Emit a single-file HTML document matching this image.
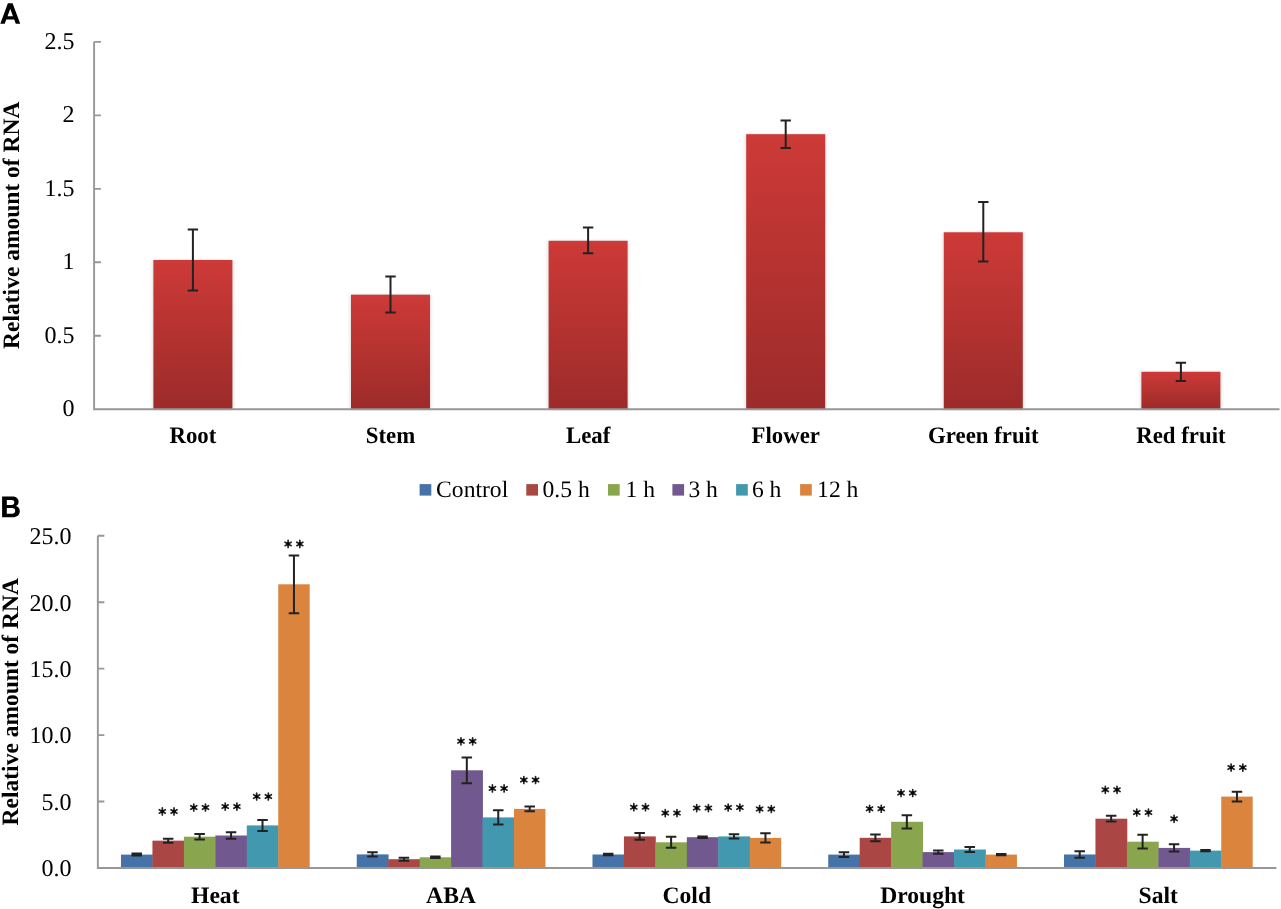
<!DOCTYPE html>
<html><head><meta charset="utf-8"><title>Relative amount of RNA</title>
<style>html,body{margin:0;padding:0;background:#fff;overflow:hidden}svg{display:block;will-change:transform;text-rendering:geometricPrecision}</style>
</head><body>
<svg width="1281" height="909" viewBox="0 0 1281 909">
<defs>
<linearGradient id="gA" x1="0" y1="0" x2="0" y2="1">
<stop offset="0" stop-color="#cd3a37"/><stop offset="1" stop-color="#9c2b2a"/>
</linearGradient>
<filter id="sh" x="-20%" y="-5%" width="140%" height="110%"><feGaussianBlur stdDeviation="2.2 0.8"/></filter>
<symbol id="ast" overflow="visible"><path d="M0 0L0.000 3.500M0 0L3.031 1.750M0 0L3.031 -1.750M0 0L0.000 -3.500M0 0L-3.031 -1.750M0 0L-3.031 1.750" stroke="#242424" stroke-width="1.7" stroke-linecap="round"/><circle r="1.7" fill="#050505"/></symbol>
</defs>
<rect width="1281" height="909" fill="#fff"/>
<path fill-rule="evenodd" d="M0.3 23.8L7.9 3.3H12.6L20.2 23.8H15.8L14.2 19.5H6.3L4.7 23.8ZM7.52 16.2H12.98L10.25 8.84Z"/>
<rect x="153.40" y="260.00" width="79.00" height="149.30" fill="#000" opacity="0.2" filter="url(#sh)"/>
<rect x="351.00" y="294.70" width="79.00" height="114.60" fill="#000" opacity="0.2" filter="url(#sh)"/>
<rect x="548.60" y="240.80" width="79.00" height="168.50" fill="#000" opacity="0.2" filter="url(#sh)"/>
<rect x="746.20" y="134.20" width="79.00" height="275.10" fill="#000" opacity="0.2" filter="url(#sh)"/>
<rect x="943.80" y="232.30" width="79.00" height="177.00" fill="#000" opacity="0.2" filter="url(#sh)"/>
<rect x="1141.40" y="371.80" width="79.00" height="37.50" fill="#000" opacity="0.2" filter="url(#sh)"/>
<rect x="153.40" y="260.00" width="79.00" height="149.30" fill="url(#gA)"/>
<rect x="351.00" y="294.70" width="79.00" height="114.60" fill="url(#gA)"/>
<rect x="548.60" y="240.80" width="79.00" height="168.50" fill="url(#gA)"/>
<rect x="746.20" y="134.20" width="79.00" height="275.10" fill="url(#gA)"/>
<rect x="943.80" y="232.30" width="79.00" height="177.00" fill="url(#gA)"/>
<rect x="1141.40" y="371.80" width="79.00" height="37.50" fill="url(#gA)"/>
<path d="M94.1 41.85V409.3H1279.5" fill="none" stroke="#979797" stroke-width="1.9"/>
<path d="M94.1 335.81h6.8M94.1 262.32h6.8M94.1 188.83h6.8M94.1 115.34h6.8M94.1 41.85h6.8" stroke="#979797" stroke-width="1.9"/>
<text x="74.6" y="416.10" text-anchor="end" font-family='"Liberation Serif", serif' font-size="24">0</text>
<text x="74.6" y="342.61" text-anchor="end" font-family='"Liberation Serif", serif' font-size="24">0.5</text>
<text x="74.6" y="269.12" text-anchor="end" font-family='"Liberation Serif", serif' font-size="24">1</text>
<text x="74.6" y="195.63" text-anchor="end" font-family='"Liberation Serif", serif' font-size="24">1.5</text>
<text x="74.6" y="122.14" text-anchor="end" font-family='"Liberation Serif", serif' font-size="24">2</text>
<text x="74.6" y="48.65" text-anchor="end" font-family='"Liberation Serif", serif' font-size="24">2.5</text>
<path d="M192.90 229.50V290.40M187.70 229.50h10.4M187.70 290.40h10.4" stroke="#222" stroke-width="2"/>
<path d="M390.50 276.40V312.40M385.30 276.40h10.4M385.30 312.40h10.4" stroke="#222" stroke-width="2"/>
<path d="M588.10 227.60V253.30M582.90 227.60h10.4M582.90 253.30h10.4" stroke="#222" stroke-width="2"/>
<path d="M785.70 120.50V147.90M780.50 120.50h10.4M780.50 147.90h10.4" stroke="#222" stroke-width="2"/>
<path d="M983.30 202.10V261.50M978.10 202.10h10.4M978.10 261.50h10.4" stroke="#222" stroke-width="2"/>
<path d="M1180.90 362.70V380.90M1175.70 362.70h10.4M1175.70 380.90h10.4" stroke="#222" stroke-width="2"/>
<text transform="translate(192.90 443.1) scale(0.967 1)" text-anchor="middle" font-family='"Liberation Serif", serif' font-weight="bold" font-size="23.6">Root</text>
<text transform="translate(390.50 443.1) scale(0.967 1)" text-anchor="middle" font-family='"Liberation Serif", serif' font-weight="bold" font-size="23.6">Stem</text>
<text transform="translate(588.10 443.1) scale(0.967 1)" text-anchor="middle" font-family='"Liberation Serif", serif' font-weight="bold" font-size="23.6">Leaf</text>
<text transform="translate(785.70 443.1) scale(0.967 1)" text-anchor="middle" font-family='"Liberation Serif", serif' font-weight="bold" font-size="23.6">Flower</text>
<text transform="translate(983.30 443.1) scale(0.967 1)" text-anchor="middle" font-family='"Liberation Serif", serif' font-weight="bold" font-size="23.6">Green fruit</text>
<text transform="translate(1180.90 443.1) scale(0.967 1)" text-anchor="middle" font-family='"Liberation Serif", serif' font-weight="bold" font-size="23.6">Red fruit</text>
<text transform="translate(18.5 225.2) rotate(-90)" text-anchor="middle" font-family='"Liberation Serif", serif' font-weight="bold" font-size="23.5">Relative amount of RNA</text>
<path transform="translate(0 496.6)" fill-rule="evenodd" d="M2.1 0H12.2C16.2 0 18.6 2 18.6 5.2C18.6 7.3 17.5 8.7 15.9 9.5C18.3 10.2 19.8 12 19.8 14.6C19.8 18.3 17 20.6 12.6 20.6H2.1ZM6.8 3.4V8.3H11.6C13.4 8.3 14.3 7.5 14.3 5.85C14.3 4.2 13.4 3.4 11.6 3.4ZM6.8 11.3V17.2H12C14 17.2 15.2 16.1 15.2 14.25C15.2 12.4 14 11.3 12 11.3Z"/>
<rect x="120.99" y="854.60" width="31.85" height="13.35" fill="#4572A7"/>
<rect x="152.44" y="840.65" width="31.85" height="27.30" fill="#AA4643"/>
<rect x="183.89" y="836.70" width="31.85" height="31.25" fill="#89A54E"/>
<rect x="215.34" y="835.50" width="31.85" height="32.45" fill="#71588F"/>
<rect x="246.79" y="825.40" width="31.85" height="42.55" fill="#4198AF"/>
<rect x="278.24" y="584.30" width="31.45" height="283.65" fill="#DB843D"/>
<rect x="356.74" y="854.40" width="31.85" height="13.55" fill="#4572A7"/>
<rect x="388.19" y="859.20" width="31.85" height="8.75" fill="#AA4643"/>
<rect x="419.64" y="857.30" width="31.85" height="10.65" fill="#89A54E"/>
<rect x="451.09" y="770.30" width="31.85" height="97.65" fill="#71588F"/>
<rect x="482.54" y="817.40" width="31.85" height="50.55" fill="#4198AF"/>
<rect x="513.99" y="808.90" width="31.45" height="59.05" fill="#DB843D"/>
<rect x="592.49" y="854.50" width="31.85" height="13.45" fill="#4572A7"/>
<rect x="623.94" y="836.40" width="31.85" height="31.55" fill="#AA4643"/>
<rect x="655.39" y="842.30" width="31.85" height="25.65" fill="#89A54E"/>
<rect x="686.84" y="837.20" width="31.85" height="30.75" fill="#71588F"/>
<rect x="718.29" y="836.40" width="31.85" height="31.55" fill="#4198AF"/>
<rect x="749.74" y="837.90" width="31.45" height="30.05" fill="#DB843D"/>
<rect x="828.24" y="854.60" width="31.85" height="13.35" fill="#4572A7"/>
<rect x="859.69" y="837.80" width="31.85" height="30.15" fill="#AA4643"/>
<rect x="891.14" y="821.80" width="31.85" height="46.15" fill="#89A54E"/>
<rect x="922.59" y="852.10" width="31.85" height="15.85" fill="#71588F"/>
<rect x="954.04" y="849.50" width="31.85" height="18.45" fill="#4198AF"/>
<rect x="985.49" y="854.60" width="31.45" height="13.35" fill="#DB843D"/>
<rect x="1063.99" y="854.50" width="31.85" height="13.45" fill="#4572A7"/>
<rect x="1095.44" y="818.70" width="31.85" height="49.25" fill="#AA4643"/>
<rect x="1126.89" y="841.70" width="31.85" height="26.25" fill="#89A54E"/>
<rect x="1158.34" y="847.90" width="31.85" height="20.05" fill="#71588F"/>
<rect x="1189.79" y="850.60" width="31.85" height="17.35" fill="#4198AF"/>
<rect x="1221.24" y="796.60" width="31.45" height="71.35" fill="#DB843D"/>
<path d="M97.85 535.80V867.95H1276.4" fill="none" stroke="#979797" stroke-width="1.9"/>
<path d="M97.85 801.52h6.5M97.85 735.09h6.5M97.85 668.66h6.5M97.85 602.23h6.5M97.85 535.80h6.5" stroke="#979797" stroke-width="1.9"/>
<text x="71.6" y="876.25" text-anchor="end" font-family='"Liberation Serif", serif' font-size="24">0.0</text>
<text x="71.6" y="809.82" text-anchor="end" font-family='"Liberation Serif", serif' font-size="24">5.0</text>
<text x="71.6" y="743.39" text-anchor="end" font-family='"Liberation Serif", serif' font-size="24">10.0</text>
<text x="71.6" y="676.96" text-anchor="end" font-family='"Liberation Serif", serif' font-size="24">15.0</text>
<text x="71.6" y="610.53" text-anchor="end" font-family='"Liberation Serif", serif' font-size="24">20.0</text>
<text x="71.6" y="544.10" text-anchor="end" font-family='"Liberation Serif", serif' font-size="24">25.0</text>
<path d="M136.71 853.60V855.60M131.46 853.60h10.5M131.46 855.60h10.5" stroke="#222" stroke-width="2"/>
<path d="M168.16 838.65V842.65M162.91 838.65h10.5M162.91 842.65h10.5" stroke="#222" stroke-width="2"/>
<path d="M199.61 834.00V839.40M194.36 834.00h10.5M194.36 839.40h10.5" stroke="#222" stroke-width="2"/>
<path d="M231.06 832.25V838.75M225.81 832.25h10.5M225.81 838.75h10.5" stroke="#222" stroke-width="2"/>
<path d="M262.51 819.90V830.90M257.26 819.90h10.5M257.26 830.90h10.5" stroke="#222" stroke-width="2"/>
<path d="M293.96 555.45V613.15M288.71 555.45h10.5M288.71 613.15h10.5" stroke="#222" stroke-width="2"/>
<path d="M372.46 852.25V856.55M367.21 852.25h10.5M367.21 856.55h10.5" stroke="#222" stroke-width="2"/>
<path d="M403.91 857.75V860.65M398.66 857.75h10.5M398.66 860.65h10.5" stroke="#222" stroke-width="2"/>
<path d="M435.36 856.50V858.10M430.11 856.50h10.5M430.11 858.10h10.5" stroke="#222" stroke-width="2"/>
<path d="M466.81 757.40V783.20M461.56 757.40h10.5M461.56 783.20h10.5" stroke="#222" stroke-width="2"/>
<path d="M498.26 810.35V824.45M493.01 810.35h10.5M493.01 824.45h10.5" stroke="#222" stroke-width="2"/>
<path d="M529.71 806.45V811.35M524.46 806.45h10.5M524.46 811.35h10.5" stroke="#222" stroke-width="2"/>
<path d="M608.21 853.80V855.20M602.96 853.80h10.5M602.96 855.20h10.5" stroke="#222" stroke-width="2"/>
<path d="M639.66 833.00V839.80M634.41 833.00h10.5M634.41 839.80h10.5" stroke="#222" stroke-width="2"/>
<path d="M671.11 836.75V847.85M665.86 836.75h10.5M665.86 847.85h10.5" stroke="#222" stroke-width="2"/>
<path d="M702.56 836.40V838.00M697.31 836.40h10.5M697.31 838.00h10.5" stroke="#222" stroke-width="2"/>
<path d="M734.01 834.20V838.60M728.76 834.20h10.5M728.76 838.60h10.5" stroke="#222" stroke-width="2"/>
<path d="M765.46 833.35V842.45M760.21 833.35h10.5M760.21 842.45h10.5" stroke="#222" stroke-width="2"/>
<path d="M843.96 852.25V856.95M838.71 852.25h10.5M838.71 856.95h10.5" stroke="#222" stroke-width="2"/>
<path d="M875.41 834.45V841.15M870.16 834.45h10.5M870.16 841.15h10.5" stroke="#222" stroke-width="2"/>
<path d="M906.86 815.15V828.45M901.61 815.15h10.5M901.61 828.45h10.5" stroke="#222" stroke-width="2"/>
<path d="M938.31 850.40V853.80M933.06 850.40h10.5M933.06 853.80h10.5" stroke="#222" stroke-width="2"/>
<path d="M969.76 847.00V852.00M964.51 847.00h10.5M964.51 852.00h10.5" stroke="#222" stroke-width="2"/>
<path d="M1001.21 853.90V855.30M995.96 853.90h10.5M995.96 855.30h10.5" stroke="#222" stroke-width="2"/>
<path d="M1079.71 851.35V857.65M1074.46 851.35h10.5M1074.46 857.65h10.5" stroke="#222" stroke-width="2"/>
<path d="M1111.16 815.80V821.60M1105.91 815.80h10.5M1105.91 821.60h10.5" stroke="#222" stroke-width="2"/>
<path d="M1142.61 834.85V848.55M1137.36 834.85h10.5M1137.36 848.55h10.5" stroke="#222" stroke-width="2"/>
<path d="M1174.06 844.30V851.50M1168.81 844.30h10.5M1168.81 851.50h10.5" stroke="#222" stroke-width="2"/>
<path d="M1205.51 849.90V851.30M1200.26 849.90h10.5M1200.26 851.30h10.5" stroke="#222" stroke-width="2"/>
<path d="M1236.96 791.65V801.55M1231.71 791.65h10.5M1231.71 801.55h10.5" stroke="#222" stroke-width="2"/>
<use href="#ast" x="162.31" y="811.40"/><use href="#ast" x="174.01" y="811.40"/>
<use href="#ast" x="193.76" y="807.50"/><use href="#ast" x="205.46" y="807.50"/>
<use href="#ast" x="225.21" y="806.60"/><use href="#ast" x="236.91" y="806.60"/>
<use href="#ast" x="256.66" y="796.50"/><use href="#ast" x="268.36" y="796.50"/>
<use href="#ast" x="288.11" y="543.90"/><use href="#ast" x="299.81" y="543.90"/>
<use href="#ast" x="460.96" y="741.30"/><use href="#ast" x="472.66" y="741.30"/>
<use href="#ast" x="492.41" y="788.40"/><use href="#ast" x="504.11" y="788.40"/>
<use href="#ast" x="523.86" y="780.00"/><use href="#ast" x="535.56" y="780.00"/>
<use href="#ast" x="633.81" y="807.20"/><use href="#ast" x="645.51" y="807.20"/>
<use href="#ast" x="665.26" y="813.10"/><use href="#ast" x="676.96" y="813.10"/>
<use href="#ast" x="696.71" y="808.10"/><use href="#ast" x="708.41" y="808.10"/>
<use href="#ast" x="728.16" y="807.50"/><use href="#ast" x="739.86" y="807.50"/>
<use href="#ast" x="759.61" y="809.00"/><use href="#ast" x="771.31" y="809.00"/>
<use href="#ast" x="869.56" y="808.75"/><use href="#ast" x="881.26" y="808.75"/>
<use href="#ast" x="901.01" y="793.00"/><use href="#ast" x="912.71" y="793.00"/>
<use href="#ast" x="1105.31" y="789.80"/><use href="#ast" x="1117.01" y="789.80"/>
<use href="#ast" x="1136.76" y="812.50"/><use href="#ast" x="1148.46" y="812.50"/>
<use href="#ast" x="1174.06" y="818.80"/>
<use href="#ast" x="1231.11" y="767.60"/><use href="#ast" x="1242.81" y="767.60"/>
<text x="215.28" y="903" text-anchor="middle" font-family='"Liberation Serif", serif' font-weight="bold" font-size="23.6">Heat</text>
<text x="451.02" y="903" text-anchor="middle" font-family='"Liberation Serif", serif' font-weight="bold" font-size="23.6">ABA</text>
<text x="686.77" y="903" text-anchor="middle" font-family='"Liberation Serif", serif' font-weight="bold" font-size="23.6">Cold</text>
<text x="922.52" y="903" text-anchor="middle" font-family='"Liberation Serif", serif' font-weight="bold" font-size="23.6">Drought</text>
<text x="1158.28" y="903" text-anchor="middle" font-family='"Liberation Serif", serif' font-weight="bold" font-size="23.6">Salt</text>
<text transform="translate(18.3 701.7) rotate(-90)" text-anchor="middle" font-family='"Liberation Serif", serif' font-weight="bold" font-size="23.5">Relative amount of RNA</text>
<rect x="419.6" y="484.1" width="11.7" height="11.5" fill="#4572A7"/>
<text x="436.1" y="497.25" font-family='"Liberation Serif", serif' font-size="23.6">Control</text>
<rect x="526.3" y="484.1" width="11.7" height="11.5" fill="#AA4643"/>
<text x="542.5" y="497.25" font-family='"Liberation Serif", serif' font-size="23.6">0.5 h</text>
<rect x="608.0" y="484.1" width="11.7" height="11.5" fill="#89A54E"/>
<text x="625.5" y="497.25" font-family='"Liberation Serif", serif' font-size="23.6">1 h</text>
<rect x="672.4" y="484.1" width="11.7" height="11.5" fill="#71588F"/>
<text x="688.4" y="497.25" font-family='"Liberation Serif", serif' font-size="23.6">3 h</text>
<rect x="736.1" y="484.1" width="11.7" height="11.5" fill="#4198AF"/>
<text x="751.9" y="497.25" font-family='"Liberation Serif", serif' font-size="23.6">6 h</text>
<rect x="800.1" y="484.1" width="11.7" height="11.5" fill="#DB843D"/>
<text x="817.1" y="497.25" font-family='"Liberation Serif", serif' font-size="23.6">12 h</text>
</svg>
</body></html>
